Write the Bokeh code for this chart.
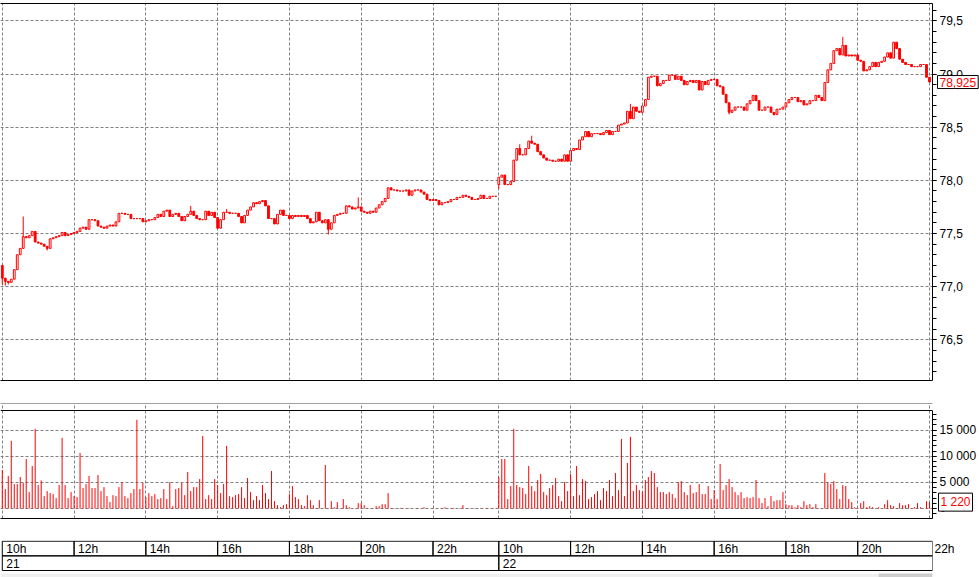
import numpy as np

from bokeh.plotting import figure
from bokeh.layouts import column
from bokeh.models import (Range1d, FixedTicker, SingleIntervalTicker, LinearAxis,
                          CustomJSTickFormatter, Label, Span)
from bokeh.core.properties import value
from bokeh.embed import file_html
from bokeh.resources import INLINE

# 5 minute bars, one row = one hour. day 21 from 10h, day 22 from 10h
close_21 = [
    77.08, 77.05, 77.04, 77.07, 77.16, 77.30, 77.36, 77.47, 77.46, 77.48, 77.52, 77.42,
    77.41, 77.40, 77.38, 77.36, 77.45, 77.46, 77.47, 77.48, 77.51, 77.48, 77.49, 77.50,
    77.51, 77.52, 77.55, 77.56, 77.54, 77.63, 77.63, 77.62, 77.57, 77.56, 77.55, 77.57,
    77.58, 77.57, 77.61, 77.69, 77.69, 77.68, 77.68, 77.64, 77.64, 77.64, 77.64, 77.61,
    77.62, 77.63, 77.63, 77.65, 77.68, 77.66, 77.71, 77.72, 77.66, 77.68, 77.69, 77.66,
    77.62, 77.66, 77.68, 77.71, 77.67, 77.64, 77.63, 77.63, 77.71, 77.67, 77.70, 77.65,
    77.55, 77.63, 77.70, 77.70, 77.69, 77.69, 77.69, 77.66, 77.60, 77.67, 77.72, 77.75,
    77.79, 77.78, 77.80, 77.81, 77.76, 77.64, 77.64, 77.59, 77.68, 77.72, 77.67, 77.67,
    77.64, 77.67, 77.66, 77.67, 77.66, 77.67, 77.64, 77.60, 77.61, 77.70, 77.62, 77.60,
    77.63, 77.54, 77.60, 77.67, 77.68, 77.69, 77.69, 77.76, 77.75, 77.73, 77.74, 77.75,
    77.71, 77.70, 77.69, 77.71, 77.70, 77.74, 77.77, 77.80, 77.83, 77.93, 77.91, 77.91,
    77.90, 77.90, 77.90, 77.91, 77.86, 77.90, 77.91, 77.91, 77.89, 77.87, 77.82, 77.81,
    77.82, 77.81, 77.77, 77.79, 77.79, 77.80, 77.82, 77.82, 77.84, 77.84, 77.86, 77.85,
    77.84, 77.82, 77.82, 77.83, 77.86, 77.83, 77.83, 77.85, 77.85, 77.85,
]
close_22 = [
    78.03, 78.05, 77.96, 77.96, 77.99, 78.19, 78.30, 78.24, 78.24, 78.30, 78.37, 78.35,
    78.34, 78.27, 78.24, 78.21, 78.19, 78.19, 78.18, 78.18, 78.20, 78.18, 78.24, 78.18,
    78.28, 78.30, 78.29, 78.38, 78.41, 78.46, 78.41, 78.44, 78.44, 78.44, 78.43, 78.45,
    78.47, 78.43, 78.46, 78.46, 78.52, 78.53, 78.54, 78.65, 78.58, 78.69, 78.65, 78.64,
    78.70, 78.76, 78.97, 78.98, 78.98, 78.89, 78.91, 78.94, 78.94, 78.99, 78.99, 78.95,
    78.98, 78.94, 78.90, 78.93, 78.94, 78.92, 78.94, 78.85, 78.93, 78.90, 78.94, 78.95,
    78.95, 78.89, 78.88, 78.81, 78.73, 78.64, 78.66, 78.69, 78.69, 78.69, 78.66, 78.72,
    78.75, 78.80, 78.75, 78.66, 78.66, 78.69, 78.69, 78.64, 78.62, 78.67, 78.67, 78.69,
    78.73, 78.76, 78.78, 78.78, 78.74, 78.75, 78.71, 78.72, 78.75, 78.75, 78.80, 78.78,
    78.75, 78.92, 79.04, 79.10, 79.22, 79.24, 79.18, 79.27, 79.17, 79.18, 79.17, 79.18,
    79.13, 79.12, 79.03, 79.04, 79.07, 79.11, 79.07, 79.11, 79.12, 79.16, 79.20, 79.15,
    79.30, 79.24, 79.14, 79.11, 79.09, 79.09, 79.07, 79.07, 79.07, 79.09, 79.09, 78.97,
    78.925,
]
# first trade of each session (other bars open at the previous close)
session_open = [77.20, 77.96]
# visible wicks beyond the bodies, bar number -> price
wick_high = {7: 77.66, 63: 77.76, 75: 77.73, 119: 77.84, 173: 78.34, 177: 78.42,
             210: 78.72, 281: 79.35}
wick_low = {0: 77.02, 1: 77.01, 2: 77.02, 15: 77.34, 109: 77.49, 166: 77.92,
            243: 78.62, 258: 78.61}

vol_21 = [
    7370, 3720, 6220, 12950, 4680, 4680, 6030, 4870, 9490, 3140, 8140, 15260,
    4490, 5380, 2370, 3330, 2950, 2760, 1990, 4490, 13530, 4490, 1990, 3140,
    2370, 2180, 10640, 3910, 4680, 6220, 3910, 3910, 6410, 3330, 4100, 2370,
    1220, 2560, 2370, 4100, 5060, 2370, 1990, 2950, 3720, 16990, 3720, 4870,
    2180, 2950, 2370, 2760, 1800, 1990, 3720, 1800, 5060, 450, 3720, 3910,
    4900, 2560, 7000, 3330, 4100, 4100, 5640, 13900, 1800, 2560, 1800, 5640,
    4490, 2950, 4680, 12000, 2370, 2180, 2560, 2760, 4100, 1990, 5830, 3140,
    1600, 2370, 1600, 4490, 2950, 1800, 7180, 1410, 640, 260, 640, 830,
    2760, 4300, 2180, 1800, 640, 450, 2560, 1600, 640, 60, 1600, 60,
    8330, 60, 1410, 260, 1220, 60, 1800, 640, 260, 60, 60, 1030,
    1030, 640, 60, 60, 60, 450, 450, 830, 830, 2950, 100, 80,
    0, 120, 90, 0, 100, 0, 0, 80, 0, 260, 0, 0,
    90, 0, 0, 100, 260, 0, 80, 120, 0, 100, 640, 0,
    90, 0, 100, 0, 80, 0, 120, 0, 90, 0,
]
vol_22 = [
    6030, 9490, 9490, 1800, 4300, 15260, 4490, 4100, 3910, 2760, 8140, 4300,
    3330, 5450, 6600, 3140, 2560, 3910, 4490, 5830, 2370, 1410, 5060, 3330,
    6600, 2370, 8140, 2560, 5640, 5250, 1800, 2180, 2760, 3330, 1600, 3910,
    3330, 5450, 2370, 6790, 3520, 13330, 2370, 8720, 13720, 3330, 4490, 3520,
    3140, 5450, 6030, 7180, 6790, 4100, 3140, 3140, 2760, 3140, 2760, 1990,
    5060, 5250, 3140, 2560, 4490, 2950, 3140, 4680, 2760, 2760, 4300, 1800,
    3520, 1800, 8520, 3520, 4490, 5640, 4100, 3140, 2560, 3140, 1990, 2180,
    1990, 2180, 5450, 1990, 1030, 1990, 450, 2370, 1410, 1600, 1600, 3140,
    830, 640, 640, 260, 640, 260, 1410, 640, 830, 260, 830, 60,
    60, 6790, 5060, 4680, 5250, 3720, 1800, 4490, 4300, 1800, 1220, 260,
    60, 1030, 1410, 260, 450, 260, 60, 260, 60, 830, 1600, 640,
    450, 60, 1030, 640, 640, 830, 60, 260, 1030, 260, 60, 1410,
    1220,
]

# time axis: bar number of each 2h mark, and of each session start
hour_ticks = [0, 24, 48, 72, 96, 120, 144, 166, 190, 214, 238, 262, 286, 310]
hour_labels = ["10h", "12h", "14h", "16h", "18h", "20h", "22h",
               "10h", "12h", "14h", "16h", "18h", "20h", "22h"]
day_ticks = [0, 166]
day_labels = ["21", "22"]
# volume scale
vol_ticks = [0, 5000, 10000, 15000]
vol_minor = list(range(-1000, 19000, 1000))

RED = "#ff0000"
GRID = "#808080"
FONT = "Liberation Sans"
W = 979
RIGHT = 47            # room for the price / volume scale
x_lo, x_hi = -0.6, 311.0
# volume box; the volume frame also reaches up over the splitter line
vol_lo, vol_hi, vol_frame_top = -1916, 18774, 20115

close = np.array(close_21 + close_22)
n = len(close)
xs = np.arange(n)
opens = np.array([session_open[0]] + close_21[:-1] + [session_open[1]] + close_22[:-1])
hi = np.maximum(opens, close)
lo = np.minimum(opens, close)
for k, v in wick_high.items():
    hi[k] = v
for k, v in wick_low.items():
    lo[k] = v
vol = np.array(vol_21 + vol_22)
up = close >= opens

x_range = Range1d(x_lo, x_hi)


def border_axis(color="black"):
    # an axis with no ticks, only used as the panel's top/bottom edge
    return LinearAxis(ticker=FixedTicker(ticks=[]), major_tick_out=0, minor_tick_out=0,
                      major_label_standoff=0, major_label_text_font_size="0px",
                      axis_line_color=color)


def style_panel(p, ticker, fmt, top_color="black"):
    p.outline_line_color = None
    p.xaxis.visible = False
    p.add_layout(border_axis(top_color), "above")
    p.add_layout(border_axis(), "below")
    ax = p.yaxis[0]
    ax.ticker = ticker
    ax.formatter = fmt
    ax.axis_line_color = "black"
    ax.major_tick_out = 4
    ax.major_tick_in = 0
    ax.minor_tick_out = 4
    ax.minor_tick_in = 0
    ax.major_tick_line_color = "black"
    ax.minor_tick_line_color = "black"
    ax.major_label_standoff = 3
    ax.major_label_text_font = FONT
    ax.major_label_text_font_size = "12px"
    ax.major_label_text_color = "black"
    p.ygrid.ticker = ticker
    p.xgrid.ticker = FixedTicker(ticks=hour_ticks)
    p.grid.grid_line_color = GRID
    p.grid.grid_line_dash = "3 2"
    p.grid.grid_line_width = 1


def value_box(p, y, text, dx):
    # boxed last value on the scale; kept in the roomy bottom border so that
    # it is not clipped to the plotting area and does not narrow it
    p.add_layout(Label(x=x_hi, y=y, x_offset=dx, text=text, text_baseline="middle",
                       text_color=RED, text_font=FONT, text_font_size="12px",
                       border_line_color="black", background_fill_color="white",
                       padding=2), "below")


# price panel (its bottom border holds the gap down to the splitter)
p1 = figure(width=W, height=403, x_range=x_range, y_range=Range1d(76.117, 79.664),
            y_axis_location="right", tools="", toolbar_location=None, output_backend="svg",
            min_border_left=0, min_border_right=RIGHT, min_border_top=3, min_border_bottom=23)
style_panel(p1, SingleIntervalTicker(interval=0.5, num_minor_ticks=5),
            CustomJSTickFormatter(code="return tick.toFixed(1).replace('.', ',')"))

p1.segment(xs, hi, xs, lo, line_color=RED, line_width=1)
p1.vbar(x=xs[up], width=0.6, top=close[up], bottom=opens[up],
        fill_color="white", line_color=RED, line_width=1)
p1.vbar(x=xs[~up], width=0.6, top=opens[~up], bottom=close[~up],
        fill_color=RED, line_color=RED, line_width=1)
value_box(p1, close[-1], f"{close[-1]:.3f}".replace(".", ","), 5)

# volume panel; its top edge is the grey splitter, the box starts a little lower
p2 = figure(width=W, height=137, x_range=x_range, y_range=Range1d(vol_lo, vol_frame_top),
            y_axis_location="right", tools="", toolbar_location=None, output_backend="svg",
            min_border_left=0, min_border_right=RIGHT, min_border_top=0, min_border_bottom=22)
style_panel(p2, FixedTicker(ticks=vol_ticks, minor_ticks=vol_minor),
            CustomJSTickFormatter(code=r"return tick.toFixed(0).replace(/\B(?=(\d{3})+(?!\d))/g, ' ')"),
            top_color="#a0a0a0")
p2.yaxis.bounds = (vol_lo, vol_hi)
p2.xgrid.bounds = (vol_lo, vol_hi)
p2.add_layout(Span(location=vol_hi, dimension="width", line_color="black", line_width=1))

p2.segment(xs, 0, xs, vol, line_color=RED, line_width=1)
value_box(p2, vol[-1], f"{vol[-1]:,}".replace(",", " "), 6)

# time axis, two rows of boxes (hours, days), then the scroll bar strip
p3 = figure(width=W, height=37, x_range=x_range, y_range=Range1d(-0.478, 2.048),
            x_axis_type=None, y_axis_location="right", tools="", toolbar_location=None,
            output_backend="svg", min_border_left=0, min_border_right=RIGHT,
            min_border_top=0, min_border_bottom=0)
p3.outline_line_color = None
p3.ygrid.visible = False
# the closing "22h" sits past the last box, on the side scale
ax3 = p3.yaxis[0]
ax3.ticker = FixedTicker(ticks=[1.5])
ax3.major_label_overrides = {1.5: hour_labels[-1]}
ax3.axis_line_color = None
ax3.major_tick_out = 0
ax3.major_tick_in = 0
ax3.minor_tick_out = 0
ax3.minor_tick_in = 0
ax3.major_label_standoff = 2
ax3.major_label_text_font = FONT
ax3.major_label_text_font_size = "12px"
ax3.major_label_text_color = "black"

box_left = hour_ticks[:-1]
box_right = hour_ticks[1:-1] + [x_hi]
p3.quad(left=box_left, right=box_right, bottom=1, top=2, fill_color=None, line_color="black")
p3.quad(left=day_ticks, right=day_ticks[1:] + [x_hi], bottom=0, top=1,
        fill_color=None, line_color="black")
p3.text(x=box_left, y=1.5, text=hour_labels[:-1], x_offset=4, text_baseline="middle",
        text_font=value(FONT), text_font_size=value("12px"), text_color="black")
p3.text(x=day_ticks, y=0.5, text=day_labels, x_offset=4, text_baseline="middle",
        text_font=value(FONT), text_font_size=value("12px"), text_color="black")

# scroll bar: light track with the thumb at the right end
p3.quad(left=[x_lo], right=[x_hi], bottom=-0.478, top=-0.205, fill_color="#f0f0f0",
        line_color=None)
p3.quad(left=[293], right=[x_hi], bottom=-0.478, top=-0.205, fill_color="#cdcdcd",
        line_color=None)

layout = column(p1, p2, p3)

open("out.html", "w").write(file_html(layout, INLINE))
